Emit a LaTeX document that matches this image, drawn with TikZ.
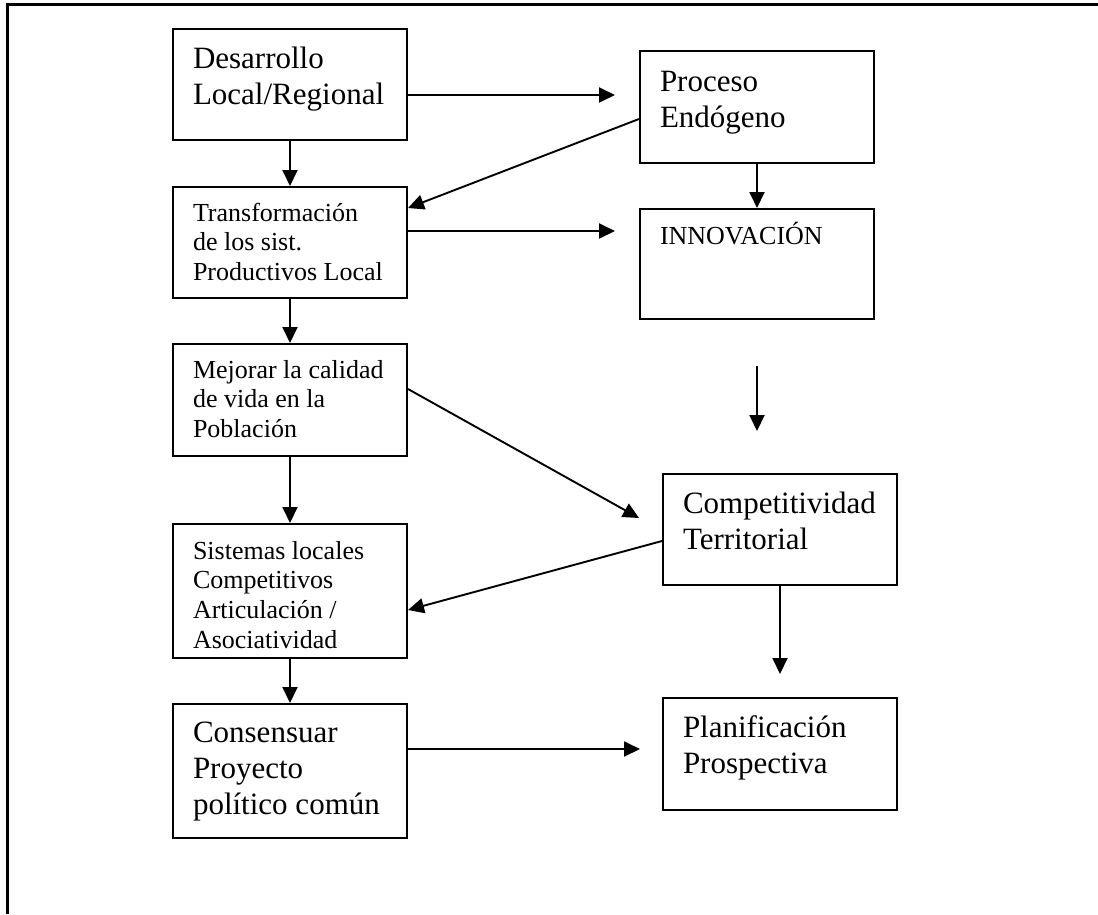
\documentclass[tikz,border=0pt]{standalone}
\usepackage{fontspec}
\setmainfont{Liberation Serif}
\usepackage{tikz}
\usetikzlibrary{arrows.meta}
\usetikzlibrary{positioning}
\tikzset{%
  base/.style = {rectangle, draw=black, line width=2pt, inner sep=0pt},
  arrow/.style = {-{Triangle[length=16pt,width=15pt]}, line width=1.9pt}
}
\newcommand{\boxbig}{\fontsize{31}{36}\selectfont}
\newcommand{\boxsmall}{\fontsize{26}{29.7}\selectfont}
% box text: box height, first baseline, lines
\newcommand{\boxtext}[3]{\parbox[c][#1][t]{234pt}{\leftskip=20pt\rightskip=0pt plus 1fil\rule{0pt}{#2}#3}}

\begin{document}
\begin{tikzpicture}[%
    x=1pt, y=-1pt,
    every node/.style={base}]

  \useasboundingbox (0,0) rectangle (1098,914);
  \draw[line width=3pt] (7,914) -- (7,4) -- (1098,4);

  % Specification of nodes (position, etc.)
  \node (desarrollo) [anchor=north west] at (172,28) {\boxtext{111pt}{39pt}{\boxbig Desarrollo\\Local/Regional}};
  \node (transformacion) [below=45pt of desarrollo] {\boxtext{111pt}{34pt}{\boxsmall Transformación\\de los sist.\\Productivos Local}};
  \node (mejorar) [below=44pt of transformacion] {\boxtext{112pt}{34pt}{\boxsmall Mejorar la calidad\\de vida en la\\Población}};
  \node (sistemas) [below=66pt of mejorar] {\boxtext{134pt}{35pt}{\boxsmall Sistemas locales\\Competitivos\\Articulación /\\Asociatividad}};
  \node (consensuar) [below=44pt of sistemas] {\boxtext{134pt}{38pt}{\boxbig Consensuar\\Proyecto\\político común}};

  \node (proceso) [anchor=north west] at (639,50) {\boxtext{112pt}{40pt}{\boxbig Proceso\\Endógeno}};
  \node (innovacion) [below=44pt of proceso] {\boxtext{110pt}{35pt}{\boxsmall INNOVACIÓN}};
  \node (competitividad) [anchor=north west] at (662,473) {\boxtext{111pt}{39pt}{\boxbig Competitividad\\Territorial}};
  \node (planificacion) [below=111pt of competitividad] {\boxtext{112pt}{39pt}{\boxbig Planificación\\Prospectiva}};

  \coordinate (gap-top) at ([yshift=-46pt]innovacion.south);
  \coordinate (gap-end) at ([yshift=-111pt]innovacion.south);

  \draw[arrow] (desarrollo) -- (transformacion);
  \draw[arrow] (transformacion) -- (mejorar);
  \draw[arrow] (mejorar) -- (sistemas);
  \draw[arrow] (sistemas) -- (consensuar);
  \draw[arrow] (proceso) -- (innovacion);
  \draw[arrow] (gap-top) -- (gap-end);
  \draw[arrow, shorten >=23pt] (competitividad.south) -- (planificacion.north);

  \draw[arrow, shorten >=24pt] ([yshift=-10.5pt]desarrollo.east) -- ([yshift=-10.5pt]desarrollo.east -| proceso.west);
  \draw[arrow, shorten >=24pt] ([yshift=11.5pt]transformacion.east) -- ([yshift=11.5pt]transformacion.east -| innovacion.west);
  \draw[arrow, shorten >=22pt] ([yshift=22pt]consensuar.east) -- ([yshift=22pt]consensuar.east -| planificacion.west);
  \draw[arrow] ([yshift=-12pt]proceso.west) -- ([yshift=34.5pt]transformacion.east);
  \draw[arrow] ([yshift=11pt]mejorar.east) -- ([xshift=-23pt,yshift=11.5pt]competitividad.west);
  \draw[arrow] ([yshift=-11.5pt]competitividad.west) -- ([yshift=-19pt]sistemas.east);
\end{tikzpicture}
\end{document}
